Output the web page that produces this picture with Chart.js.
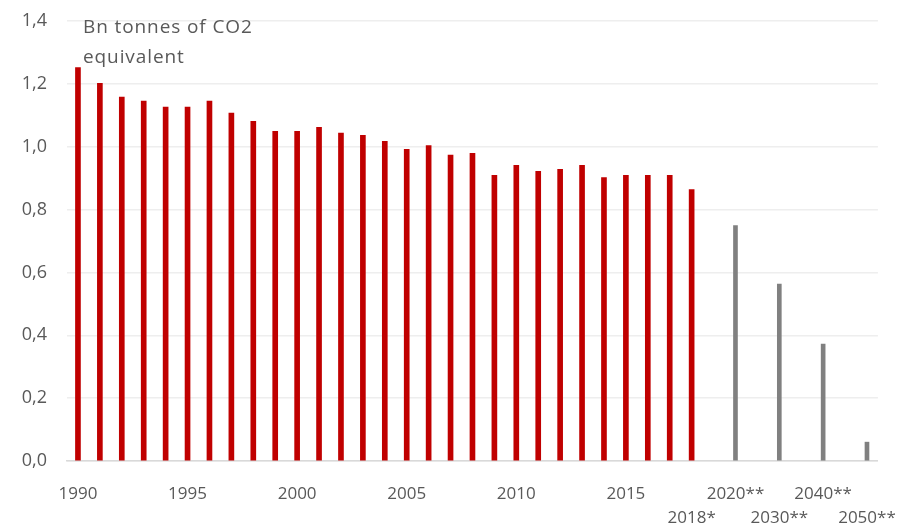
<!DOCTYPE html>
<html>
<head>
<meta charset="utf-8">
<script src="https://cdn.jsdelivr.net/npm/chart.js@4"></script>
<style>
  html, body { margin: 0; padding: 0; background: #fff; }
  #wrap { width: 909px; height: 524px; }
</style>
</head>
<body>
<div id="wrap"><canvas id="myChart"></canvas></div>
<script>
// categories: 1990..2018, then targets every 10 years (blank slots between)
const categories = [
  "1990","1991","1992","1993","1994","1995","1996","1997","1998","1999",
  "2000","2001","2002","2003","2004","2005","2006","2007","2008","2009",
  "2010","2011","2012","2013","2014","2015","2016","2017","2018",
  "", "2020", "", "2030", "", "2040", "", "2050"
];

// historic emissions, Bn tonnes CO2 eq.
const historic = [
  1.252, 1.202, 1.158, 1.145, 1.126, 1.126, 1.145, 1.107, 1.081, 1.049,
  1.049, 1.062, 1.043, 1.036, 1.017, 0.992, 1.004, 0.973, 0.979, 0.909,
  0.941, 0.922, 0.928, 0.941, 0.902, 0.909, 0.909, 0.909, 0.864,
  null, null, null, null, null, null, null, null
];

// targets
const targets = [
  null, null, null, null, null, null, null, null, null, null,
  null, null, null, null, null, null, null, null, null, null,
  null, null, null, null, null, null, null, null, null,
  null, 0.749, null, 0.563, null, 0.372, null, 0.060
];

const tickLabels = [
  "1990","","","","","1995","","","","",
  "2000","","","","","2005","","","","",
  "2010","","","","","2015","","","2018*",
  "","2020**","","2030**","","2040**","","2050**"
];
const lowerRow = ["2018*", "2030**", "2050**"];

const unitLines = ["Bn tonnes of CO2", "equivalent"];

const txtColor = "#595959";

const unitLabel = {
  id: "unitLabel",
  afterDatasetsDraw(chart) {
    const ctx = chart.ctx;
    ctx.save();
    ctx.font = "19px 'Open Sans'";
    ctx.fillStyle = txtColor;
    ctx.textBaseline = "alphabetic";
    ctx.letterSpacing = "0.9px";
    unitLines.forEach((l, i) => {
      ctx.fillText(l, chart.chartArea.left + 16, 33 + i * 30);
    });
    ctx.restore();
  }
};

const ctx = document.getElementById("myChart");

new Chart(ctx, {
  type: "bar",
  data: {
    labels: categories,
    datasets: [
      {
        label: "Historic",
        data: historic,
        backgroundColor: "#C00000",
        barThickness: 5,
        grouped: false,
      },
      {
        label: "Target",
        data: targets,
        backgroundColor: "#808080",
        barThickness: 4,
        grouped: false,
      },
    ],
  },
  options: {
    responsive: true,
    maintainAspectRatio: false,
    animation: false,
    layout: { padding: { top: 21, right: 16, left: 0, bottom: 0 } },
    plugins: {
      legend: { display: false },
      tooltip: { enabled: false },
    },
    scales: {
      x: {
        grid: { display: false },
        border: { display: true, color: "#D9D9D9", width: 1.5 },
        ticks: {
          autoSkip: false,
          maxRotation: 0,
          minRotation: 0,
          padding: 13,
          color: txtColor,
          font: { family: "'Open Sans'", size: 17, lineHeight: 1.4 },
          callback: (v, i) => {
            const t = tickLabels[i];
            if (!t) return "";
            return lowerRow.includes(t) ? ["", t] : t;
          },
        },
        afterFit: (scale) => { scale.height = 63; },
      },
      y: {
        min: 0,
        max: 1.4,
        border: { display: false },
        grid: {
          color: "#EEEEEE",
          lineWidth: 1.5,
          drawTicks: true,
          tickLength: 20,
          tickColor: "rgba(0,0,0,0)",
        },
        ticks: {
          stepSize: 0.2,
          padding: 0,
          color: txtColor,
          font: { family: "'Open Sans'", size: 18 },
          callback: (v) => v.toFixed(1).replace(".", ","),
        },
        afterFit: (scale) => { scale.width = 67; },
      },
    },
  },
  plugins: [unitLabel],
});
</script>
</body>
</html>
